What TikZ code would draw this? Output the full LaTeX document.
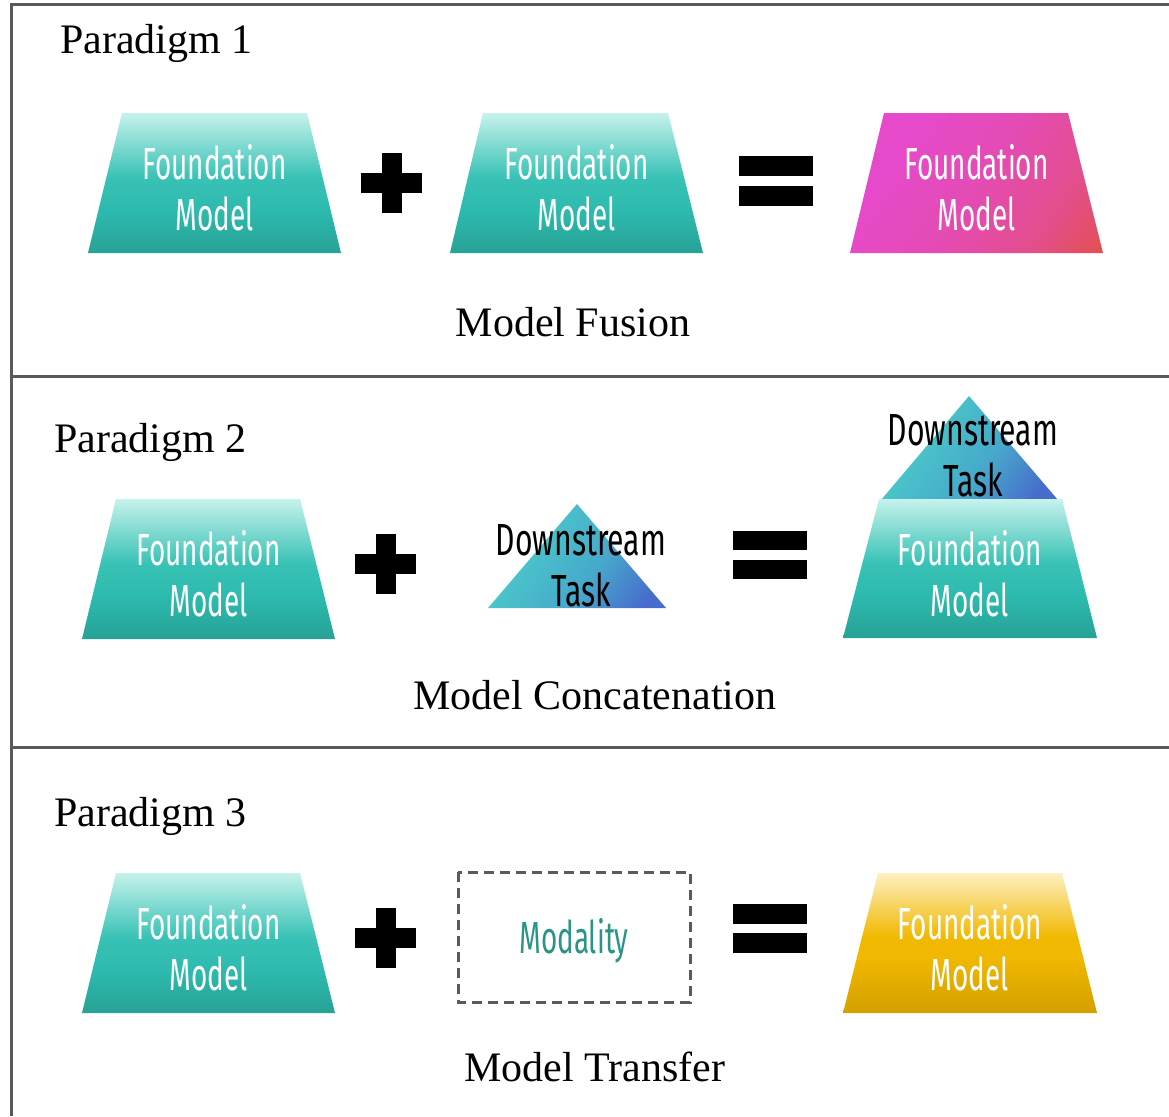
\documentclass[tikz,border=0pt]{standalone}
\usepackage{fontspec}
\setmainfont{Liberation Serif}
\newfontfamily\condfont[FakeStretch=0.62]{Fira Sans}
\newfontfamily\dsfont[FakeStretch=0.67]{Fira Sans}
\usetikzlibrary{calc}
\definecolor{frameg}{HTML}{5A5A5A}
\definecolor{modteal}{HTML}{2A9486}
\definecolor{tb}{HTML}{27A195}
\definecolor{tm}{HTML}{2DBAAE}
\definecolor{tm2}{HTML}{38C2B5}
\definecolor{tt}{HTML}{C6F2EC}
\definecolor{yb}{HTML}{D2A000}
\definecolor{ym}{HTML}{F1B800}
\definecolor{yt}{HTML}{FDF0C2}
\definecolor{pa}{HTML}{E64ACB}
\definecolor{pb}{HTML}{E44BB4}
\definecolor{pc}{HTML}{E34E8C}
\definecolor{pd}{HTML}{E2504F}
\definecolor{ta}{HTML}{4AC4C9}
\definecolor{tbb}{HTML}{47A8CB}
\definecolor{tc}{HTML}{476CCC}
\pgfdeclareverticalshading{tealsh}{100bp}{color(0bp)=(tb);color(25bp)=(tb);color(40bp)=(tm);color(52bp)=(tm2);color(75bp)=(tt);color(100bp)=(tt)}
\pgfdeclareverticalshading{yellowsh}{100bp}{color(0bp)=(yb);color(25bp)=(yb);color(45bp)=(ym);color(52bp)=(ym);color(75bp)=(yt);color(100bp)=(yt)}
\pgfdeclarehorizontalshading{pinksh}{100bp}{color(0bp)=(pa);color(30bp)=(pa);color(50bp)=(pb);color(70bp)=(pc);color(85bp)=(pd);color(100bp)=(pd)}
\pgfdeclarehorizontalshading{trish}{100bp}{color(0bp)=(ta);color(35bp)=(ta);color(58bp)=(tbb);color(78bp)=(tc);color(100bp)=(tc)}
\tikzset{
  framel/.style={draw=frameg,line width=3pt},
  tealfm/.style={shading=tealsh},
  yellowfm/.style={shading=yellowsh},
  pinkfm/.style={shading=pinksh,shading angle=-35},
  trifm/.style={shading=trish,shading angle=-35},
  fmtext/.style={font=\condfont\fontsize{45}{50}\selectfont,text=white,anchor=base,inner sep=0pt},
  dstext/.style={font=\dsfont\fontsize{45}{50}\selectfont,text=black,anchor=base,inner sep=0pt},
  modtext/.style={font=\condfont\fontsize{45}{50}\selectfont,text=modteal,anchor=base,inner sep=0pt},
  ptitle/.style={font=\fontsize{42}{46}\selectfont,anchor=base west,inner sep=0pt},
  ctitle/.style={font=\fontsize{42}{46}\selectfont,anchor=base,inner sep=0pt},
  opsign/.style={fill=black},
  modbox/.style={draw=frameg,line width=3pt,dash pattern=on 10pt off 6pt}
}
\begin{document}
\begin{tikzpicture}[x=1pt,y=-1pt]
\useasboundingbox (0,0) rectangle (1169,1116);
% frame
\draw[framel] (11,1116) -- (11,4.5) -- (1169,4.5);
\draw[framel] (11,376) -- (1169,376);
\draw[framel] (11,747) -- (1169,747);
% ---------- Row 1 ----------
\shade[tealfm] (122,113) -- (307,113) -- (341,253) -- (88,253) -- cycle;
\node[fmtext] (f1a) at (214.5,179) {Foundation};
\node[fmtext] (f1b) at (214.5,230) {Model};
\fill[opsign] (382,153) rectangle (402,213);
\fill[opsign] (361,173) rectangle (422,193);
\shade[tealfm] (483,113) -- (668,113) -- (703,253) -- (450,253) -- cycle;
\node[fmtext] (f2a) at (576.5,179) {Foundation};
\node[fmtext] (f2b) at (576.5,230) {Model};
\fill[opsign] (739,156) rectangle (813,176);
\fill[opsign] (739,186) rectangle (813,206);
\shade[pinkfm] (884,113) -- (1068,113) -- (1103,253) -- (850,253) -- cycle;
\node[fmtext] (f3a) at (976.5,179) {Foundation};
\node[fmtext] (f3b) at (976.5,230) {Model};
\node[ptitle] (p1) at (60,53) {Paradigm 1};
\node[ctitle] (c1) at (573,336) {Model Fusion};
% ---------- Row 2 ----------
\shade[tealfm] (116,499) -- (300,499) -- (335,639) -- (82,639) -- cycle;
\node[fmtext] (g1a) at (208.5,565) {Foundation};
\node[fmtext] (g1b) at (208.5,616) {Model};
\fill[opsign] (376,534) rectangle (396,594);
\fill[opsign] (355,554) rectangle (416,574);
\shade[trifm] (577,504) -- (666,608) -- (488,608) -- cycle;
\node[dstext] (d1a) at (581,555) {Downstream};
\node[dstext] (d1b) at (581,606) {Task};
\fill[opsign] (733,531) rectangle (807,550);
\fill[opsign] (733,560) rectangle (807,579);
\shade[trifm] (969,396) -- (1058,500) -- (881,500) -- cycle;
\shade[tealfm] (879,499) -- (1062,499) -- (1097,638) -- (843,638) -- cycle;
\node[dstext] (d2a) at (973,445) {Downstream};
\node[dstext] (d2b) at (973,496) {Task};
\node[fmtext] (g2a) at (970,565) {Foundation};
\node[fmtext] (g2b) at (970,616) {Model};
\node[ptitle] (p2) at (54,452) {Paradigm 2};
\node[ctitle] (c2) at (595,709) {Model Concatenation};
% ---------- Row 3 ----------
\shade[tealfm] (116,873) -- (300,873) -- (335,1013) -- (82,1013) -- cycle;
\node[fmtext] (h1a) at (208.5,939) {Foundation};
\node[fmtext] (h1b) at (208.5,990) {Model};
\fill[opsign] (376,908) rectangle (396,968);
\fill[opsign] (355,928) rectangle (416,948);
\draw[modbox] (458,872) rectangle (690,1002);
\node[modtext] (m1) at (574,953) {Modality};
\fill[opsign] (733,904) rectangle (807,924);
\fill[opsign] (733,933) rectangle (807,953);
\shade[yellowfm] (878,873) -- (1062,873) -- (1097,1013) -- (843,1013) -- cycle;
\node[fmtext] (h2a) at (970,939) {Foundation};
\node[fmtext] (h2b) at (970,990) {Model};
\node[ptitle] (p3) at (54,826) {Paradigm 3};
\node[ctitle] (c3) at (595,1081) {Model Transfer};
\end{tikzpicture}
\end{document}
